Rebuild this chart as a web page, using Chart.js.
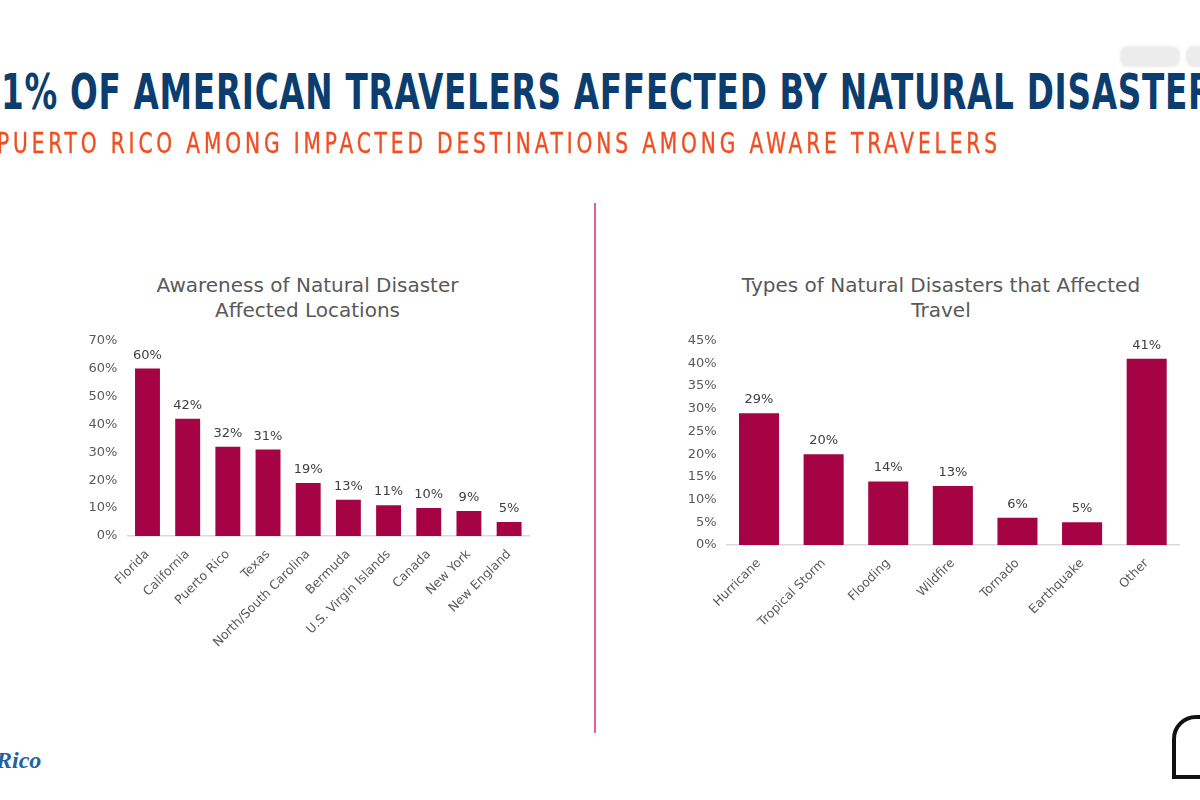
<!DOCTYPE html>
<html>
<head>
<meta charset="utf-8">
<script src="https://cdn.jsdelivr.net/npm/chart.js@4/dist/chart.umd.min.js"></script>
<style>
  html, body { margin: 0; padding: 0; background: #fff; }
  body { width: 1200px; height: 800px; position: relative; overflow: hidden; }
  .headline {
    position: absolute; left: 3px; top: 67px; white-space: nowrap;
    font: bold 50px "DejaVu Sans Condensed", "DejaVu Sans", sans-serif;
    font-stretch: condensed; line-height: 1; letter-spacing: 1px; color: #0b3d6e; transform-origin: 0 0;
  }
  .subline {
    position: absolute; left: -3px; top: 128.5px; white-space: nowrap;
    font: 29px "DejaVu Sans Condensed", "DejaVu Sans", sans-serif;
    font-stretch: condensed; line-height: 1; letter-spacing: 5px; color: #f04e23;
    transform-origin: 0 0; -webkit-text-stroke: 0.4px #f04e23;
  }
  .chart-title {
    position: absolute; top: 273px; width: 500px; text-align: center;
    font: 20px "DejaVu Sans", sans-serif; line-height: 25px; color: #595959;
  }
  .chart-box { position: absolute; }
  .divider { position: absolute; left: 594px; top: 203px; width: 2px; height: 530px; background: #e0619c; }
  .blob { position: absolute; background: #ececec; border-radius: 7px; filter: blur(1px); }
  .logo-left {
    position: absolute; left: -4px; top: 747px; color: #2161a6;
    font: italic bold 24px "Liberation Serif", "DejaVu Serif", serif;
  }
  .arch {
    position: absolute; left: 1172px; top: 715px; width: 44px; height: 56px;
    border: 4px solid #111; border-radius: 24px 24px 0 0;
  }
</style>
</head>
<body>

<div class="headline" id="headline"><span id="hlCut">4</span><span id="hlMain">1% OF AMERICAN TRAVELERS AFFECTED BY NATURAL DISASTE</span>RS</div>
<div class="subline" id="subline">PUERTO RICO AMONG IMPACTED DESTINATIONS AMONG AWARE TRAVELERS</div>

<div class="blob" style="left:1120px; top:46px; width:60px; height:21px;"></div>
<div class="blob" style="left:1186px; top:46px; width:30px; height:21px;"></div>

<div class="chart-title" id="locationsTitle" style="left:57.5px;"></div>
<div class="chart-box" style="left:70px; top:320px; width:470px; height:366px;">
  <canvas id="locationsChart"></canvas>
</div>
<div class="divider"></div>
<div class="chart-title" id="typesTitle" style="left:691px;"></div>
<div class="chart-box" style="left:680px; top:320px; width:520px; height:355px;">
  <canvas id="typesChart"></canvas>
</div>

<div class="logo-left">Rico</div>
<div class="arch"></div>

<script>
// chart data
const LOCATIONS = ['Florida', 'California', 'Puerto Rico', 'Texas', 'North/South Carolina',
                   'Bermuda', 'U.S. Virgin Islands', 'Canada', 'New York', 'New England'];
const LOCATION_PCT = [60, 42, 32, 31, 19, 13, 11, 10, 9, 5];

const DISASTER_TYPES = ['Hurricane', 'Tropical Storm', 'Flooding', 'Wildfire', 'Tornado', 'Earthquake', 'Other'];
const DISASTER_PCT = [29, 20, 14, 13, 6, 5, 41];

const LOCATIONS_TITLE = ['Awareness of Natural Disaster', 'Affected Locations'];
const TYPES_TITLE = ['Types of Natural Disasters that Affected', 'Travel'];

const BAR_COLOR = '#a50343';
const TEXT_GREY = '#595959';

document.getElementById('locationsTitle').innerHTML = LOCATIONS_TITLE.join('<br>');
document.getElementById('typesTitle').innerHTML = TYPES_TITLE.join('<br>');

// fit the cropped headline lines to the slide width
(function fitHeadings() {
    const hl = document.getElementById('headline');
    const cut = document.getElementById('hlCut');
    const main = document.getElementById('hlMain');
    const mainW = main.getBoundingClientRect().width;
    const cutW = cut.getBoundingClientRect().width;
    const s = 1187 / mainW;
    hl.style.transform = 'translateX(' + (-cutW * s - 2) + 'px) scaleX(' + s + ')';

    const sub = document.getElementById('subline');
    const s2 = 1000 / (sub.getBoundingClientRect().width - 5);
    sub.style.transform = 'scaleX(' + s2 + ')';
})();

Chart.defaults.font.family = '"DejaVu Sans", sans-serif';
Chart.defaults.color = TEXT_GREY;
Chart.defaults.animation = false;

// value labels above each bar
const barValueLabels = {
    id: 'barValueLabels',
    afterDatasetsDraw(chart) {
        const ctx = chart.ctx;
        const values = chart.data.datasets[0].data;
        ctx.save();
        ctx.font = '13px "DejaVu Sans", sans-serif';
        ctx.fillStyle = '#404040';
        ctx.textAlign = 'center';
        ctx.textBaseline = 'alphabetic';
        chart.getDatasetMeta(0).data.forEach((bar, i) => {
            ctx.fillText(values[i] + '%', bar.x, bar.y - 10);
        });
        ctx.restore();
    }
};

function makeBarChart(canvasId, labels, values, yMax, yStep, yWidth, xHeight, pad) {
    return new Chart(document.getElementById(canvasId), {
        type: 'bar',
        data: {
            labels: labels,
            datasets: [{
                data: values,
                backgroundColor: BAR_COLOR,
                borderWidth: 0,
                categoryPercentage: 1,
                barPercentage: 0.62,
            }]
        },
        options: {
            responsive: true,
            maintainAspectRatio: false,
            layout: { padding: pad },
            plugins: {
                legend: { display: false },
                tooltip: { enabled: false },
                title: { display: false }
            },
            scales: {
                x: {
                    grid: { display: false, drawTicks: false },
                    border: { display: true, color: '#d9d9d9', width: 1.5 },
                    ticks: {
                        color: TEXT_GREY,
                        font: { size: 12.5 },
                        minRotation: 45,
                        maxRotation: 45,
                        padding: 11,
                        autoSkip: false
                    },
                    afterFit: scale => { scale.height = xHeight; }
                },
                y: {
                    min: 0,
                    max: yMax,
                    grid: { display: false, drawTicks: false },
                    border: { display: false },
                    ticks: {
                        stepSize: yStep,
                        color: TEXT_GREY,
                        font: { size: 13 },
                        padding: 10,
                        callback: v => v + '%'
                    },
                    afterFit: scale => { scale.width = yWidth; }
                }
            }
        },
        plugins: [barValueLabels]
    });
}

makeBarChart('locationsChart', LOCATIONS, LOCATION_PCT, 70, 10, 57.4, 150,
             { top: 20.7, bottom: 0, left: 0, right: 10.8 });
makeBarChart('typesChart', DISASTER_TYPES, DISASTER_PCT, 45, 5, 46.7, 130,
             { top: 20.7, bottom: 0, left: 0, right: 21 });
</script>
</body>
</html>
